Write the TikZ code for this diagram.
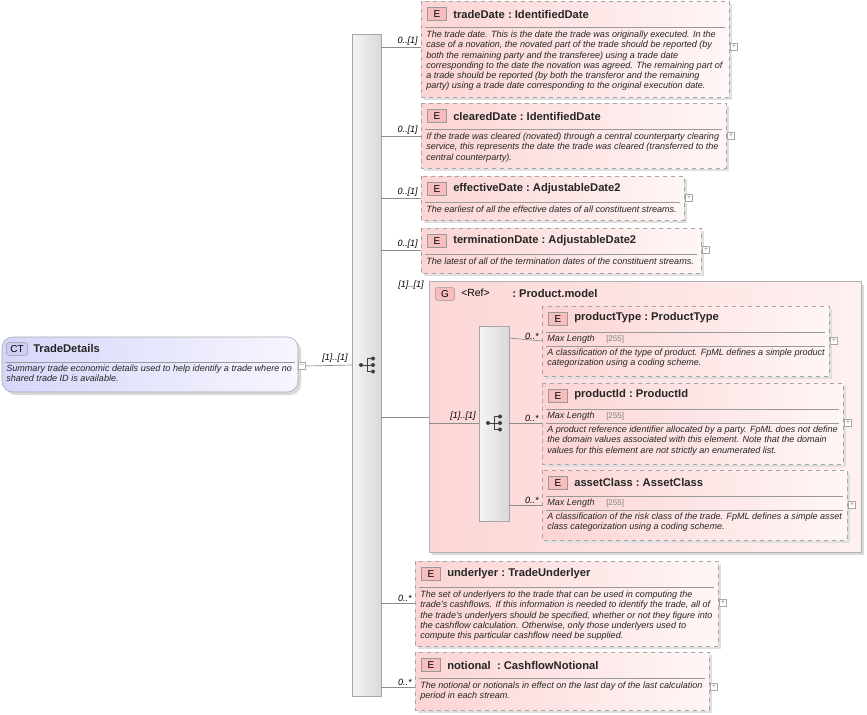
\documentclass[tikz,border=0pt]{standalone}
\usepackage{fontspec}
\setmainfont{Liberation Sans}
\begin{document}
\begin{tikzpicture}[x=0.75pt,y=-0.75pt,
 ebox/.style={draw=gray!70,dashed,left color={rgb,255:red,252;green,212;blue,212},right color={rgb,255:red,255;green,246;blue,246}},
 badge/.style={draw=gray!80,fill={rgb,255:red,248;green,190;blue,190},minimum width=14pt,minimum height=9.5pt,inner sep=0pt,font=\fontsize{7.5}{8}\selectfont},
 etitle/.style={font=\bfseries\fontsize{8.4}{9}\selectfont,text=black!85,inner sep=0pt},
 desc/.style={font=\itshape\fontsize{6.8}{7.6}\selectfont,align=left,inner sep=0pt,text=black!85},
 sep/.style={draw=gray!80,line width=0.5pt},
 conn/.style={draw=gray!90,line width=0.5pt},
 card/.style={font=\itshape\fontsize{6.8}{7}\selectfont,inner sep=0pt},
 plusbox/.style={draw=gray!70,fill=white,minimum size=5.5pt,inner sep=0pt,font=\fontsize{5}{5}\selectfont,text=gray},
 seqbar/.style={draw=gray!70,left color=gray!8,right color=gray!30}]
\useasboundingbox (0,0) rectangle (867,714);
\newcommand\seqicon[3]{%
 \draw[black!75,line width=0.7pt] (#2-6,#3)--(#2,#3) (#2,#3-6.5)--(#2,#3+6.5) (#2,#3-6.5)--(#2+6,#3-6.5) (#2,#3)--(#2+6,#3) (#2,#3+6.5)--(#2+6,#3+6.5);
 \fill[black!75] (#2-6,#3) circle[radius=1.5pt] (#2+6,#3-6.5) circle[radius=1.5pt] (#2+6,#3) circle[radius=1.5pt] (#2+6,#3+6.5) circle[radius=1.5pt];
 \coordinate (#1) at (#2,#3);}
\newcommand\elbox[8]{% name x1 y1 x2 y2 title desc conny
 \fill[gray!25] (#2+3,#3+3) rectangle (#4+3,#5+3);
 \path[ebox] (#2,#3) rectangle (#4,#5);
 \node[badge] (#1b) at (#2+16,#3+13) {E};
 \node[etitle,anchor=west] (#1) at (#2+32,#3+13) {#6};
 \draw[sep] (#2+4,#3+26)--(#4-4,#3+26);
 \node[desc,anchor=north west] (#1d) at (#2+5,#3+30) {#7};
 \node[plusbox] (#1p) at (#4+5,#8) {+};
 \coordinate (#1-in) at (#2,#8);}
\newcommand\mlbox[8]{% with Max Length row
 \fill[gray!25] (#2+3,#3+3) rectangle (#4+3,#5+3);
 \path[ebox] (#2,#3) rectangle (#4,#5);
 \node[badge] (#1b) at (#2+16,#3+13) {E};
 \node[etitle,anchor=west] (#1) at (#2+32,#3+12) {#6};
 \draw[sep] (#2+4,#3+26)--(#4-4,#3+26);
 \node[desc,anchor=west] (#1ml) at (#2+5,#3+33) {Max Length};
 \node[anchor=west,inner sep=0pt,font=\fontsize{6}{6}\selectfont,text=gray] (#1v) at (#2+64,#3+33) {[255]};
 \draw[sep] (#2+4,#3+40)--(#4-4,#3+40);
 \node[desc,anchor=north west] (#1d) at (#2+5,#3+43) {#7};
 \node[plusbox] (#1p) at (#4+5,#8) {+};
 \coordinate (#1-in) at (#2,#8);}
% main complex type
\fill[gray!30,rounded corners=8] (5,340) rectangle (301,395);
\draw[gray!70,rounded corners=8,left color={rgb,255:red,214;green,214;blue,250},right color={rgb,255:red,246;green,246;blue,255}] (2,337) rectangle (298,392);
\node[draw=gray!80,fill={rgb,255:red,205;green,205;blue,245},rounded corners=2,minimum width=16pt,minimum height=9.5pt,inner sep=0pt,font=\fontsize{7.5}{8}\selectfont] (ctb) at (17,349) {CT};
\node[etitle,anchor=west] (td) at (33,348) {TradeDetails};
\draw[sep] (5,362)--(295,362);
\node[desc,anchor=north west] (tdd) at (6,365) {Summary trade economic details used to help identify a trade where no\\shared trade ID is available.};
\node[plusbox] (tdm) at (302,366) {--};
% main sequence bar
\path[seqbar] (352,34) rectangle (381,696);
\seqicon{seq1}{367}{365}
\coordinate (seqL) at (352,365);
\draw[conn] (tdm.east)--(seqL);
\node[card] at (335,358) {[1]..[1]};
% elements
\elbox{tdate}{421}{1}{729}{97}{tradeDate\ :\ IdentifiedDate}{The trade date. This is the date the trade was originally executed. In the\\case of a novation, the novated part of the trade should be reported (by\\both the remaining party and the transferee) using a trade date\\corresponding to the date the novation was agreed. The remaining part of\\a trade should be reported (by both the transferor and the remaining\\party) using a trade date corresponding to the original execution date.}{47}
\elbox{cdate}{421}{103}{726}{168}{clearedDate\ :\ IdentifiedDate}{If the trade was cleared (novated) through a central counterparty clearing\\service, this represents the date the trade was cleared (transferred to the\\central counterparty).}{136}
\elbox{edate}{421}{176}{684}{220}{effectiveDate\ :\ AdjustableDate2}{The earliest of all the effective dates of all constituent streams.}{198}
\elbox{tmdate}{421}{228}{701}{273}{terminationDate\ :\ AdjustableDate2}{The latest of all of the termination dates of the constituent streams.}{250}
\elbox{und}{415}{561}{718}{646}{underlyer\ :\ TradeUnderlyer}{The set of underlyers to the trade that can be used in computing the\\trade's cashflows. If this information is needed to identify the trade, all of\\the trade's underlyers should be specified, whether or not they figure into\\the cashflow calculation. Otherwise, only those underlyers used to\\compute this particular cashflow need be supplied.}{603}
\elbox{notl}{415}{652}{709}{710}{notional\ \ :\ CashflowNotional}{The notional or notionals in effect on the last day of the last calculation\\period in each stream.}{687}
\foreach \n/\y/\c in {tdate/47/0..[1],cdate/136/0..[1],edate/198/0..[1],tmdate/250/0..[1],und/603/0..*,notl/687/0..*}{
 \coordinate (s\n) at (381,\y);
 \draw[conn] (s\n)--(\n-in);
 \node[card,anchor=south east] at ([shift={(-3,-1)}]\n-in) {\c};
}
% group
\fill[gray!30] (432,285) rectangle (864,555);
\draw[gray!60,left color={rgb,255:red,252;green,214;blue,214},right color={rgb,255:red,255;green,240;blue,240}] (429,281) rectangle (861,552);
\node[badge,rounded corners=1] (gb) at (445,294) {G};
\node[anchor=west,inner sep=0pt,font=\fontsize{7.8}{9}\selectfont] (gref) at (461,293) {<Ref>};
\node[etitle,anchor=west] (grp) at (512,293) {:\ Product.model};
\node[card] at (411,285) {[1]..[1]};
\coordinate (sgrp) at (381,417);
\coordinate (grpin) at (429,417);
\draw[conn] (sgrp)--(grpin);
\path[seqbar] (479,326) rectangle (509,521);
\seqicon{seq2}{494}{423}
\coordinate (grpin2) at (429,423);
\coordinate (seq2L) at (479,423);
\draw[conn] (grpin2)--(seq2L);
\node[card] at (463,416) {[1]..[1]};
\mlbox{ptype}{542}{306}{829}{376}{productType\ :\ ProductType}{A classification of the type of product. FpML defines a simple product\\categorization using a coding scheme.}{341}
\mlbox{pid}{542}{383}{843}{464}{productId\ :\ ProductId}{A product reference identifier allocated by a party. FpML does not define\\the domain values associated with this element. Note that the domain\\values for this element are not strictly an enumerated list.}{423}
\mlbox{acls}{542}{470}{847}{540}{assetClass\ :\ AssetClass}{A classification of the risk class of the trade. FpML defines a simple asset\\class categorization using a coding scheme.}{505}
\foreach \n/\y in {ptype/338,pid/423,acls/505}{
 \coordinate (q\n) at (509,\y);
 \draw[conn] (q\n)--(\n-in);
 \node[card,anchor=south east] at ([shift={(-3,-1)}]\n-in) {0..*};
}
\end{tikzpicture}
\end{document}
